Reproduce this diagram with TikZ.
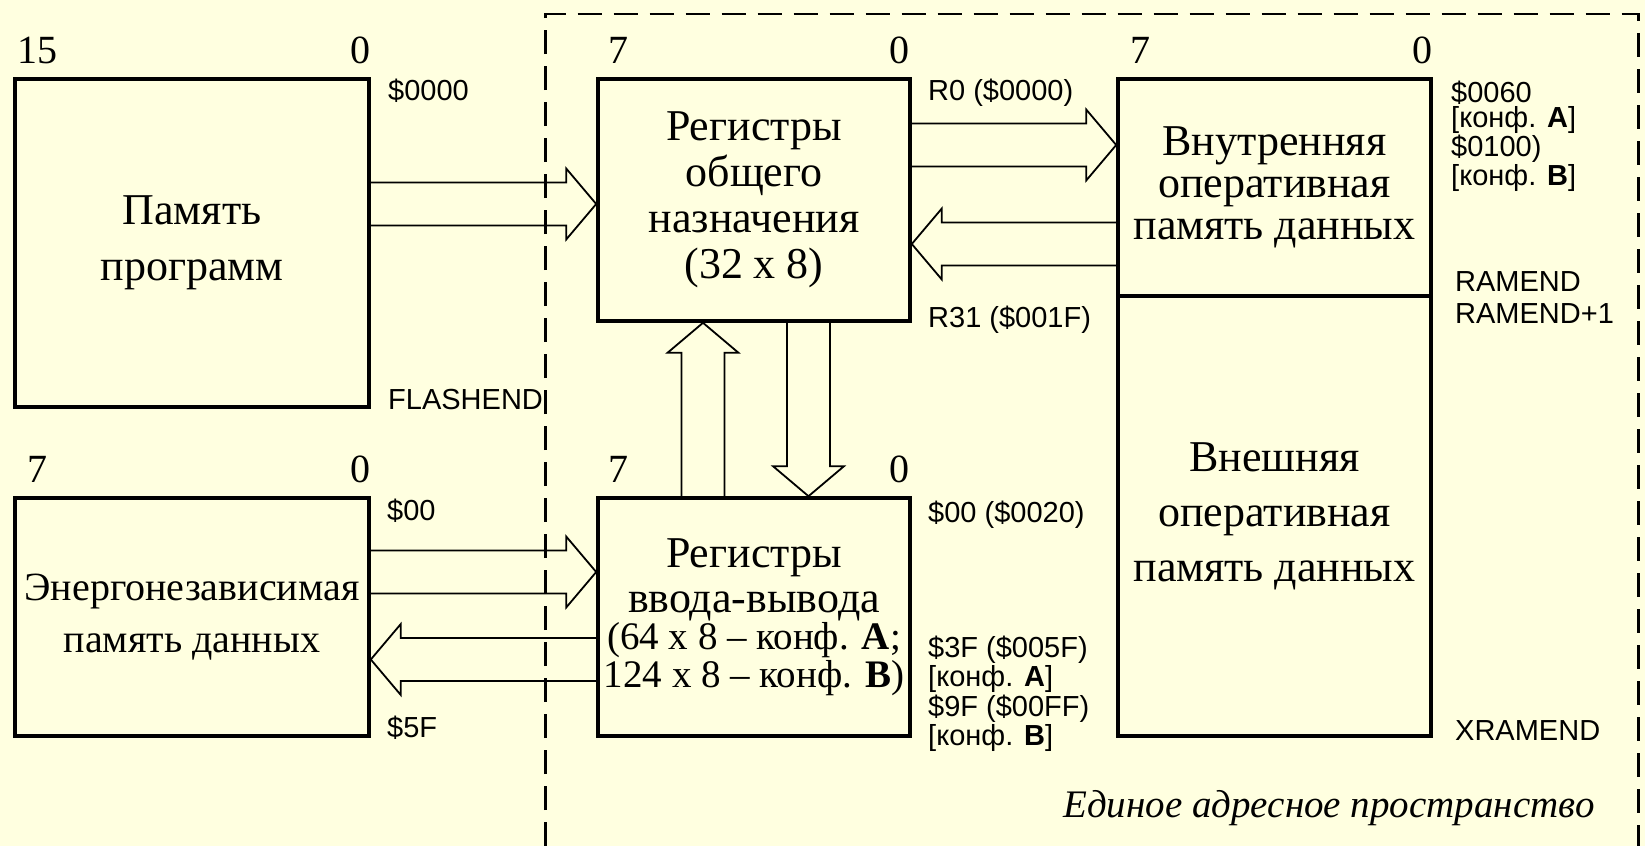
\documentclass[tikz,border=0pt]{standalone}
\usepackage{fontspec}
\setmainfont{Liberation Serif}
\setsansfont{Liberation Sans}
\usetikzlibrary{calc,positioning}
\definecolor{paper}{RGB}{255,255,224}
\tikzset{
    mem/.style={draw, line width=1.8pt, align=center, inner sep=0pt, font=\fontsize{22pt}{#1}\selectfont},
    mem/.default=23pt,
    bitno/.style={inner sep=0pt, font=\fontsize{20pt}{20pt}\selectfont},
    addr/.style={inner sep=0pt, align=left, font=\sffamily\fontsize{14.5pt}{12.5pt}\selectfont},
    bus/.style={draw, line width=0.9pt, line join=miter},
    addrspace/.style={draw, line width=1.35pt, dash pattern=on 12pt off 6pt}
}
\newcommand{\cfgline}{\fontsize{19.5pt}{17.5pt}\selectfont}
\newcommand{\busarrow}[2]{%
    \coordinate (bfrom) at (#1);
    \coordinate (bto) at (#2);
    \coordinate (bneck) at ($(bto)!15pt!(bfrom)$);
    \draw[bus] ($(bfrom)!10.75pt!90:(bneck)$) -- ($(bneck)!10.75pt!-90:(bfrom)$)
        -- ($(bneck)!17.75pt!-90:(bfrom)$) -- (bto) -- ($(bneck)!17.75pt!90:(bfrom)$)
        -- ($(bneck)!10.75pt!90:(bfrom)$) -- ($(bfrom)!10.75pt!-90:(bneck)$);
}

\begin{document}
\begin{tikzpicture}[x=0.5pt, y=-0.5pt]
    \path[use as bounding box, fill=paper] (0,0) rectangle (1645,846);

    % Nodes
    \node[mem=28pt, minimum width=177pt, minimum height=164pt] (prog) at (192,243) {Память\\программ};
    \node[mem, font=\fontsize{20pt}{26pt}\selectfont, minimum width=177pt, minimum height=119pt] (eeprom) at (192,617) {Энергонезависимая\\память данных};
    \node[mem, minimum width=156pt, minimum height=121pt] (gpr) at (754,200) {Регистры\\общего\\назначения\\(32 x 8)};
    \node[mem=17.5pt, minimum width=156pt, minimum height=119pt] (io) at (754,617) {Регистры\\[5pt]ввода-вывода\\{\cfgline(64 x 8 -- конф. \textbf{A};}\\{\cfgline 124 x 8 -- конф. \textbf{B})}};
    \node[mem=21pt, minimum width=156.5pt, minimum height=108.5pt] (iram) at (1274.5,187.5) {Внутренняя\\оперативная\\память данных};
    \node[mem=27.5pt, minimum width=156.5pt, minimum height=220pt] (xram) at (1274.5,516) {Внешняя\\оперативная\\память данных};

    % bit numbers
    \node[bitno, anchor=base west] (progmsb) at ($(prog.north west)+(2pt,7pt)$) {15};
    \node[bitno, anchor=base east] (proglsb) at ($(prog.north east)+(0pt,7pt)$) {0};
    \node[bitno, anchor=base west] (eeprommsb) at ($(eeprom.north west)+(7pt,7pt)$) {7};
    \node[bitno, anchor=base east] (eepromlsb) at ($(eeprom.north east)+(0pt,7pt)$) {0};
    \node[bitno, anchor=base west] (gprmsb) at ($(gpr.north west)+(6pt,7pt)$) {7};
    \node[bitno, anchor=base east] (gprlsb) at ($(gpr.north east)+(-1pt,7pt)$) {0};
    \node[bitno, anchor=base west] (iomsb) at ($(io.north west)+(6pt,7pt)$) {7};
    \node[bitno, anchor=base east] (iolsb) at ($(io.north east)+(-1pt,7pt)$) {0};
    \node[bitno, anchor=base west] (irammsb) at ($(iram.north west)+(7pt,7pt)$) {7};
    \node[bitno, anchor=base east] (iramlsb) at ($(iram.north east)+(0pt,7pt)$) {0};

    % addresses
    \node[addr, anchor=north west] (progtop) at ($(prog.north east)+(8.5pt,-0.5pt)$) {\$0000};
    \node[addr, anchor=base west] (progend) at ($(prog.south east)+(8.5pt,-0.5pt)$) {FLASHEND};
    \node[addr, anchor=north west] (eepromtop) at ($(eeprom.north east)+(8pt,-1pt)$) {\$00};
    \node[addr, anchor=base west] (eepromend) at ($(eeprom.south east)+(8pt,0pt)$) {\$5F};
    \node[addr, anchor=north west] (gprtop) at ($(gpr.north east)+(8pt,-0.5pt)$) {R0 (\$0000)};
    \node[addr, anchor=base west] (gprend) at ($(gpr.south east)+(8pt,-2.5pt)$) {R31 (\$001F)};
    \node[addr, anchor=north west] (iotop) at ($(io.north east)+(8pt,-2pt)$) {\$00 (\$0020)};
    \node[addr, anchor=south west] (ioend) at ($(io.south east)+(8pt,-7pt)$) {\$3F (\$005F)\\{[}конф. \textbf{A}]\\\$9F (\$00FF)\\{[}конф. \textbf{B}]};
    \node[addr, anchor=north west] (iramtop) at ($(iram.north east)+(9pt,-1.5pt)$) {\$0060\\{[}конф. \textbf{A}]\\\$0100)\\{[}конф. \textbf{B}]};
    \node[addr, anchor=base west] (iramend) at ($(iram.south east)+(11pt,3pt)$) {RAMEND};
    \node[addr, anchor=north west] (xramtop) at ($(xram.north east)+(11pt,-4.5pt)$) {RAMEND+1};
    \node[addr, anchor=base west] (xramend) at ($(xram.south east)+(11pt,-1.5pt)$) {XRAMEND};

    \node[anchor=base east, inner sep=0pt, font=\itshape\fontsize{19.5pt}{19.5pt}\selectfont] (spacename) at (1595,817) {Единое адресное пространство};

    % edges
    \draw[addrspace] (545.5,846) -- (545.5,14) -- (1638.5,14) -- (1638.5,846);
    \busarrow{prog.east |- 0,204}{gpr.west |- 0,204}
    \busarrow{gpr.east |- 0,145}{iram.west |- 0,145}
    \busarrow{iram.west |- 0,244}{gpr.east |- 0,244}
    \busarrow{io.north -| 703,0}{gpr.south -| 703,0}
    \busarrow{gpr.south -| 808.5,0}{io.north -| 808.5,0}
    \busarrow{eeprom.east |- 0,572}{io.west |- 0,572}
    \busarrow{io.west |- 0,659.5}{eeprom.east |- 0,659.5}
\end{tikzpicture}
\end{document}
